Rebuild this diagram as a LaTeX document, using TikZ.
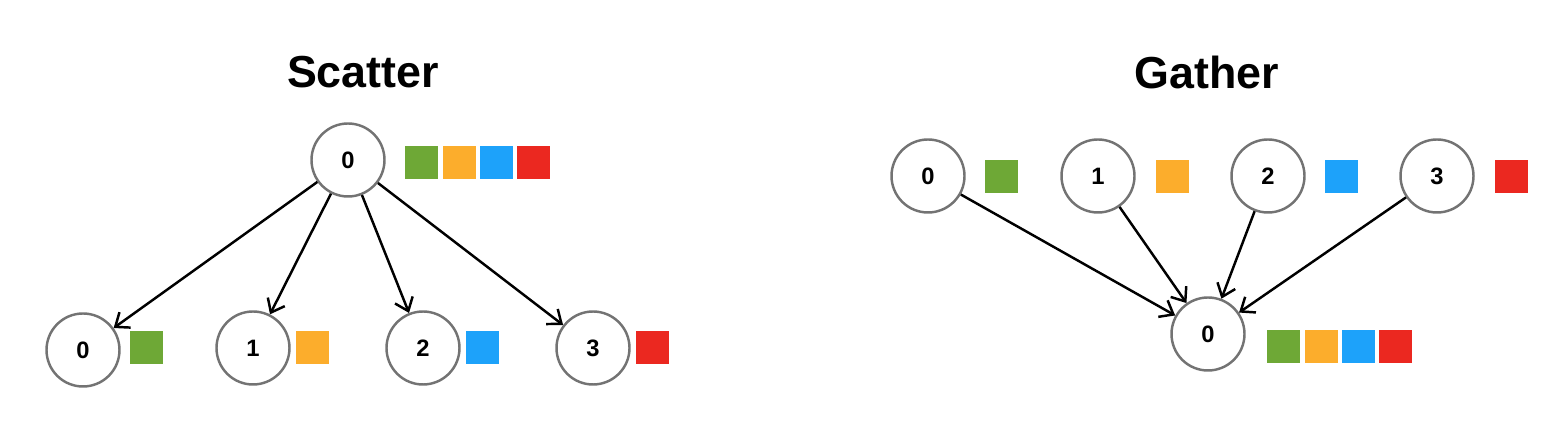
\documentclass[tikz,border=0pt]{standalone}
\usepackage{fontspec}
\setmainfont{Liberation Sans}
\usepackage{xcolor}
\usetikzlibrary{arrows.meta,positioning}

\definecolor{sqgreen}{HTML}{6EA836}
\definecolor{sqorange}{HTML}{FCAD2C}
\definecolor{sqblue}{HTML}{1DA2FA}
\definecolor{sqred}{HTML}{EB2820}

\begin{document}
\begin{tikzpicture}[
    rank/.style={circle, draw=black!55, line width=1.4pt, fill=white, minimum size=1.46cm, inner sep=0pt, font=\fontsize{13.5}{13.5}\selectfont\bfseries},
    chunk/.style={rectangle, minimum size=0.66cm, inner sep=0pt},
    title/.style={font=\fontsize{25.5}{26}\selectfont\bfseries},
    arrow/.style={line width=1.4pt,-{Straight Barb[length=2.4mm,width=3.8mm]}}]
    \useasboundingbox (0,0) rectangle (31,8.64);

    % scatter
    \node[title] (sctitle) at (7.26,7.2) {Scatter};
    \node[rank] (sroot) at (6.96,5.44) {0};
    \node[chunk, fill=sqgreen] (sroota) at (8.43,5.39) {};
    \node[chunk, fill=sqorange] (srootb) at (9.18,5.39) {};
    \node[chunk, fill=sqblue] (srootc) at (9.92,5.39) {};
    \node[chunk, fill=sqred] (srootd) at (10.67,5.39) {};

    \node[rank] (s0) at (1.66,1.64) {0};
    \node[rank] (s1) at (5.06,1.68) {1};
    \node[rank] (s2) at (8.46,1.68) {2};
    \node[rank] (s3) at (11.86,1.68) {3};
    \node[chunk, fill=sqgreen] (s0a) at (2.93,1.68) {};
    \node[chunk, fill=sqorange] (s1a) at (6.25,1.68) {};
    \node[chunk, fill=sqblue] (s2a) at (9.65,1.68) {};
    \node[chunk, fill=sqred] (s3a) at (13.05,1.68) {};

    \draw[arrow] (sroot) -- (s0);
    \draw[arrow] (sroot) -- (s1);
    \draw[arrow] (sroot) -- (s2);
    \draw[arrow] (sroot) -- (s3);

    % gather
    \node[title] (gatitle) at (24.14,7.2) {Gather};
    \node[rank] (g0) at (18.56,5.12) {0};
    \node[rank] (g1) at (21.96,5.12) {1};
    \node[rank] (g2) at (25.36,5.12) {2};
    \node[rank] (g3) at (28.74,5.12) {3};
    \node[chunk, fill=sqgreen] (g0a) at (20.02,5.11) {};
    \node[chunk, fill=sqorange] (g1a) at (23.44,5.11) {};
    \node[chunk, fill=sqblue] (g2a) at (26.82,5.11) {};
    \node[chunk, fill=sqred] (g3a) at (30.22,5.11) {};

    \node[rank] (groot) at (24.16,1.96) {0};
    \node[chunk, fill=sqgreen] (groota) at (25.67,1.71) {};
    \node[chunk, fill=sqorange] (grootb) at (26.42,1.71) {};
    \node[chunk, fill=sqblue] (grootc) at (27.17,1.71) {};
    \node[chunk, fill=sqred] (grootd) at (27.91,1.71) {};

    \draw[arrow] (g0) -- (groot);
    \draw[arrow] (g1) -- (groot);
    \draw[arrow] (g2) -- (groot);
    \draw[arrow] (g3) -- (groot);
\end{tikzpicture}
\end{document}
